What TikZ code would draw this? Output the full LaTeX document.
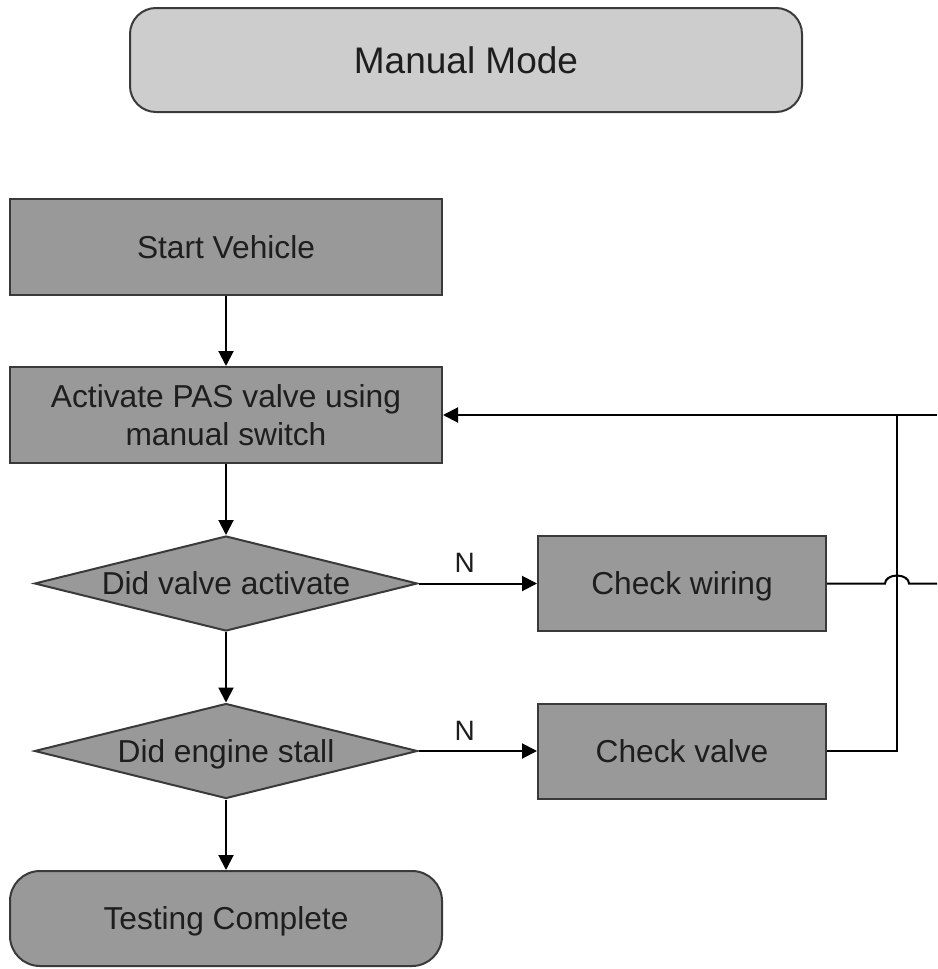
\documentclass[tikz,border=0pt]{standalone}
\usepackage{fontspec}
\setmainfont{Liberation Sans}
\usetikzlibrary{shapes.geometric,arrows.meta}
\definecolor{darkfill}{HTML}{999999}
\definecolor{lightfill}{HTML}{CDCDCD}
\definecolor{edgecol}{HTML}{3A3A3A}
\definecolor{txtcol}{HTML}{1E1E1E}
\newcommand{\mainfs}{\fontsize{31.7pt}{38pt}\selectfont}
\begin{document}
\begin{tikzpicture}[x=1pt,y=-1pt,
  base/.style={draw=edgecol, line width=2pt, inner sep=0pt, text=txtcol, font=\mainfs, text height=22.7pt, text depth=0pt},
  procbox/.style={base, rectangle, fill=darkfill},
  termbox/.style={base, rectangle, fill=darkfill, rounded corners=30pt},
  decbox/.style={base, diamond, fill=darkfill, minimum width=383pt, minimum height=95pt},
  titlebox/.style={base, rectangle, fill=lightfill, rounded corners=26pt, font=\fontsize{37pt}{44pt}\selectfont, text height=26.5pt},
  conn/.style={line width=2pt, draw=black},
  arr/.style={conn, -{Triangle[length=15pt, width=15pt]}},
  nlabel/.style={inner sep=0pt, anchor=south, yshift=10pt, text=txtcol, font=\fontsize{28pt}{34pt}\selectfont, text height=20pt, text depth=0pt}
]
\useasboundingbox (0,0) rectangle (937,969);

\node[titlebox, minimum width=672pt, minimum height=104pt] (mm) at (466,60) {Manual Mode};

\node[procbox, minimum width=432pt, minimum height=96pt] (sv) at (226,247) {Start Vehicle};
\node[procbox, minimum width=432pt, minimum height=96pt, text depth=38pt] (act) at (226,415)
  {\begin{tabular}[t]{@{}c@{}}Activate PAS valve using\\manual switch\end{tabular}};
\node[decbox] (d1) at (226,583.5) {\makebox[0pt]{Did valve activate}};
\node[procbox, minimum width=288pt, minimum height=95pt] (cw) at (682,583.5) {Check wiring};
\node[decbox] (d2) at (226,751) {\makebox[0pt]{Did engine stall}};
\node[procbox, minimum width=288pt, minimum height=95pt] (cv) at (682,751) {Check valve};
\node[termbox, minimum width=432pt, minimum height=95pt] (tc) at (226,918.5) {Testing Complete};

\coordinate (jx) at (897,415);
\coordinate (rtop) at (937,415);
\coordinate (rmid) at (937,583.5);
\coordinate (hopL) at (885,583.5);

\draw[arr] (sv.south) -- (act.north);
\draw[arr] (act.south) -- (d1.north);
\draw[arr] (d1.south) -- (d2.north);
\draw[arr] (d2.south) -- (tc.north);
\draw[arr] (d1.east) -- node[nlabel, pos=0.39] {N} (cw.west);
\draw[arr] (d2.east) -- node[nlabel, pos=0.39] {N} (cv.west);
\draw[arr] (rtop) -- (act.east);
\draw[conn] (cv.east) -| (jx);
\draw[conn] (cw.east) -- (hopL) arc[start angle=180, end angle=0, x radius=12pt, y radius=8pt] -- (rmid);
\end{tikzpicture}
\end{document}
